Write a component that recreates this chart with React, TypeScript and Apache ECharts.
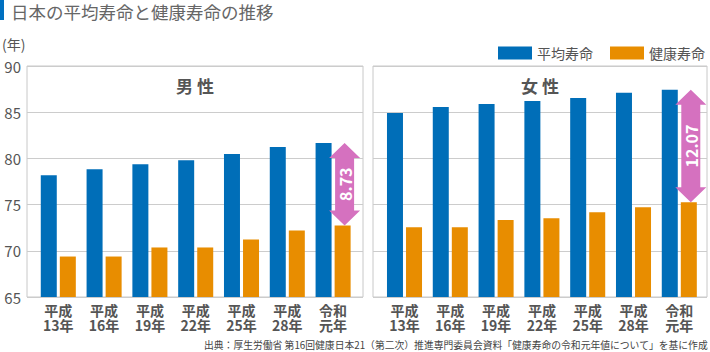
import React, { useEffect, useRef } from "react";
import * as echarts from "echarts";

const categories = ["平成\n13年", "平成\n16年", "平成\n19年", "平成\n22年", "平成\n25年", "平成\n28年", "令和\n元年"];
const maleAverage = [78.18, 78.83, 79.38, 79.81, 80.47, 81.23, 81.66];
const maleHealthy = [69.38, 69.38, 70.36, 70.36, 71.23, 72.21, 72.75];
const femaleAverage = [84.92, 85.57, 85.9, 86.22, 86.55, 87.1, 87.42];
const femaleHealthy = [72.55, 72.55, 73.32, 73.53, 74.18, 74.72, 75.26];
const maleGapLabel = "8.73";
const femaleGapLabel = "12.07";
const yTicks = { min: 65, max: 90, interval: 5 };
const seriesNames = ["平均寿命", "健康寿命"];

const BLUE = "#006EB8";
const ORANGE = "#E88D00";
const PINK = "#D571BF";
const FONT = "'Noto Sans CJK JP', 'Noto Sans', sans-serif";

function arrowRenderer(label: string) {
  return (params: any, api: any) => {
    const idx = api.value(0);
    const top = api.coord([idx, api.value(1)]);
    const bot = api.coord([idx, api.value(2)]);
    const cx = top[0] + 11.5;
    const yT = top[1];
    const yB = bot[1];
    const hw = 15.5;
    const sw = 9.5;
    const hh = 15;
    return {
      type: "group",
      children: [
        {
          type: "polygon",
          shape: {
            points: [
              [cx, yT],
              [cx + hw, yT + hh],
              [cx + sw, yT + hh],
              [cx + sw, yB - hh],
              [cx + hw, yB - hh],
              [cx, yB],
              [cx - hw, yB - hh],
              [cx - sw, yB - hh],
              [cx - sw, yT + hh],
              [cx - hw, yT + hh],
            ],
          },
          style: { fill: PINK },
        },
        {
          type: "text",
          x: cx,
          y: (yT + yB) / 2,
          rotation: Math.PI / 2,
          style: {
            text: label,
            x: 0,
            y: 0,
            fill: "#fff",
            font: `bold 16px ${FONT}`,
            align: "center",
            verticalAlign: "middle",
          },
        },
      ],
    };
  };
}

export default function App() {
  const ref = useRef<HTMLDivElement>(null);
  useEffect(() => {
    document.body.style.margin = "0";
    const chart = echarts.init(ref.current!, null, { renderer: "svg" });
    const frameGrid = (left: number, width: number) => ({
      left,
      top: 66,
      width,
      height: 231,
      show: true,
      borderColor: "#c8c8c8",
      borderWidth: 1,
      backgroundColor: "transparent",
    });
    const barGrid = (left: number) => ({ left, top: 66, width: 320.6, height: 231 });
    const hiddenX = (gridIndex: number) => ({
      type: "category",
      gridIndex,
      data: categories,
      show: false,
    });
    const barX = (gridIndex: number) => ({
      type: "category",
      gridIndex,
      data: categories,
      axisLine: { show: false },
      axisTick: { show: false },
      axisLabel: {
        margin: 5,
        color: "#555",
        fontSize: 14,
        fontWeight: "bold",
        lineHeight: 15,
        fontFamily: FONT,
        interval: 0,
      },
    });
    const frameY = (gridIndex: number, showLabels: boolean) => ({
      type: "value",
      gridIndex,
      ...yTicks,
      axisLine: { show: false },
      axisTick: { show: false },
      splitLine: { show: true, lineStyle: { color: "#cccccc", width: 1 } },
      axisLabel: {
        show: showLabels,
        margin: 6,
        color: "#555",
        fontSize: 15,
        fontFamily: FONT,
      },
    });
    const hiddenY = (gridIndex: number) => ({
      type: "value",
      gridIndex,
      ...yTicks,
      show: false,
      splitLine: { show: false },
    });
    const bar = (name: string, data: number[], color: string, axis: number) => ({
      type: "bar",
      name,
      data,
      xAxisIndex: axis,
      yAxisIndex: axis,
      barWidth: 16,
      barGap: "19%",
      itemStyle: { color },
    });
    chart.setOption({
      animation: false,
      textStyle: { fontFamily: FONT },
      grid: [frameGrid(27, 336), barGrid(35.4), frameGrid(373, 334), barGrid(381.6)],
      xAxis: [hiddenX(0), barX(1), hiddenX(2), barX(3)],
      yAxis: [frameY(0, true), hiddenY(1), frameY(2, false), hiddenY(3)],
      legend: {
        data: seriesNames,
        right: 0,
        top: 41,
        itemWidth: 34,
        itemHeight: 13,
        itemGap: 17,
        icon: "rect",
        selectedMode: false,
        textStyle: { color: "#555", fontSize: 14, fontFamily: FONT },
      },
      series: [
        bar(seriesNames[0], maleAverage, BLUE, 1),
        bar(seriesNames[1], maleHealthy, ORANGE, 1),
        bar(seriesNames[0], femaleAverage, BLUE, 3),
        bar(seriesNames[1], femaleHealthy, ORANGE, 3),
        {
          type: "custom",
          name: "maleGap",
          xAxisIndex: 1,
          yAxisIndex: 1,
          data: [[categories.length - 1, maleAverage[maleAverage.length - 1], maleHealthy[maleHealthy.length - 1]]],
          renderItem: arrowRenderer(maleGapLabel),
          z: 5,
        },
        {
          type: "custom",
          name: "femaleGap",
          xAxisIndex: 3,
          yAxisIndex: 3,
          data: [[categories.length - 1, femaleAverage[femaleAverage.length - 1], femaleHealthy[femaleHealthy.length - 1]]],
          renderItem: arrowRenderer(femaleGapLabel),
          z: 5,
        },
      ],
      graphic: [
        { type: "rect", left: 0, top: 0, shape: { width: 4, height: 20 }, style: { fill: "#0070C0" } },
        {
          type: "text",
          left: 11,
          top: 3,
          style: { text: "日本の平均寿命と健康寿命の推移", fill: "#666", font: `17.5px ${FONT}` },
        },
        {
          type: "text",
          left: 2,
          top: 37,
          style: { text: "(年)", fill: "#555", font: `14px ${FONT}` },
        },
        {
          type: "text",
          x: 195,
          y: 85,
          style: { text: "男 性", fill: "#555", font: `bold 17px ${FONT}`, align: "center", verticalAlign: "middle" },
        },
        {
          type: "text",
          x: 540,
          y: 85,
          style: { text: "女 性", fill: "#555", font: `bold 17px ${FONT}`, align: "center", verticalAlign: "middle" },
        },
        {
          type: "text",
          right: 2,
          top: 340,
          style: {
            text: "出典：厚生労働省 第16回健康日本21（第二次）推進専門委員会資料「健康寿命の令和元年値について」を基に作成",
            fill: "#444",
            font: `9.8px ${FONT}`,
          },
        },
      ],
    });
    return () => chart.dispose();
  }, []);
  return <div ref={ref} style={{ width: 710, height: 352 }} />;
}
